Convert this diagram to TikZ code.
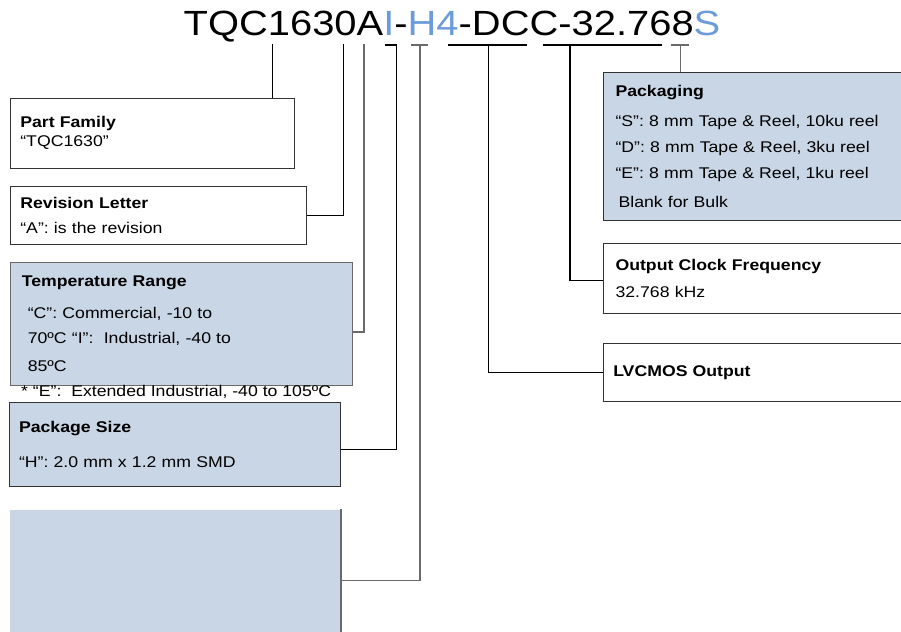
\documentclass[tikz,border=0pt]{standalone}
\usepackage{fontspec}
\setmainfont{Liberation Sans}[FakeStretch=1.14]
\usetikzlibrary{positioning, calc}

\definecolor{codeblue}{HTML}{6C9BD9}
\definecolor{boxfill}{HTML}{C9D6E5}
\definecolor{boxline}{HTML}{333333}
\definecolor{linegray}{HTML}{6A6A6A}

\begin{document}
\begin{tikzpicture}[
    x=1pt, y=-1pt,
    box/.style={rectangle, draw=boxline, line width=1.1pt, anchor=north west, align=left, inner xsep=9.5pt, inner ysep=0pt, font=\fontsize{15.5}{18}\selectfont},
    shaded/.style={box, fill=boxfill},
    link/.style={line width=1.1pt, black},
    glink/.style={line width=1.6pt, linegray}
]
\useasboundingbox (0,0) rectangle (901,631);

% Part number
\node (code) [anchor=base west, inner sep=0pt, font=\fontsize{35}{40}\selectfont] at (183.5,35.5) {TQC1630A\textcolor{codeblue}{I}-\textcolor{codeblue}{H4}-DCC-32.768\textcolor{codeblue}{S}};

% Left column
\node (family) [box, text width=264.7pt, minimum height=70pt] at (10.3,97.7) {\textbf{Part Family}\\[1pt]“TQC1630”};
\node (revision) [box, text width=276.4pt, minimum height=58.3pt] at (10.3,185.7) {\textbf{Revision Letter}\\[7pt]“A”: is the revision};
\node (temprange) [shaded, draw=linegray, inner xsep=11pt, text width=319.4pt, minimum height=122.7pt] at (10.3,262.3) {\textbf{Temperature Range}\\[13.7pt]\hspace*{6pt}“C”: Commercial, -10 to\\[7pt]\hspace*{6pt}70ºC “I”:\ \ Industrial, -40 to\\[10.3pt]\hspace*{6pt}85ºC};
\node (footnote) [anchor=base west, inner sep=0pt, font=\fontsize{15.5}{18}\selectfont] at (21,396.7) {* “E”:\ \ Extended Industrial, -40 to 105ºC};
\node (pkgsize) [shaded, text width=311.7pt, minimum height=83.7pt] at (9,402.3) {\textbf{Package Size}\\[16.6pt]“H”: 2.0 mm x 1.2 mm SMD};
\node (spare) [shaded, draw=none, minimum width=331pt, minimum height=131pt, inner sep=0pt] at (9,509) {};

% Right column
\node (packaging) [shaded, inner xsep=12.3pt, text width=300pt, minimum height=148.3pt] at (602.7,71.7) {\textbf{Packaging}\\[12.7pt]“S”: 8 mm Tape \& Reel, 10ku reel\\[8pt]“D”: 8 mm Tape \& Reel, 3ku reel\\[7.7pt]“E”: 8 mm Tape \& Reel, 1ku reel\\[11.3pt]\hspace*{3pt}Blank for Bulk};
\node (freq) [box, inner xsep=12.3pt, text width=300pt, minimum height=70.6pt] at (602.7,242.7) {\textbf{Output Clock Frequency}\\[8.3pt]32.768 kHz};
\node (output) [box, inner xsep=10pt, text width=300pt, minimum height=58pt] at (602.7,342.7) {\textbf{LVCMOS Output}};

% Taps under the part number
\coordinate (tFam) at (272.3,44);
\coordinate (tRev) at (343.3,44);
\coordinate (tTemp) at (363.7,44);
\coordinate (tSizeA) at (385,45);
\coordinate (tSize) at (396.5,45);
\coordinate (tHa) at (411,45);
\coordinate (tHb) at (428.3,45);
\coordinate (tH) at (420,45);
\coordinate (tDCCa) at (448.3,45);
\coordinate (tDCCb) at (527,45);
\coordinate (tDCC) at (488.3,45);
\coordinate (tFrqA) at (543,45);
\coordinate (tFrqB) at (661.7,45);
\coordinate (tFrq) at (570,45);
\coordinate (tPkA) at (670.7,45);
\coordinate (tPkB) at (689.3,45);
\coordinate (tPk) at (680.5,45);

% Leaders
\draw [link] (tFam) -- (tFam |- family.north);
\draw [link] (tRev) |- (revision.east);
\draw [glink] (tTemp) |- ([yshift=-8pt]temprange.east);
\draw [link] (tSizeA) -- (tSize) |- ([yshift=-5pt]pkgsize.east);
\draw [glink] (tHa) -- (tHb);
\draw [glink] (tH) |- ([yshift=-5.5pt]spare.east);
\draw [glink] (spare.north east) -- (spare.south east);
\draw [link] (tDCCa) -- (tDCCb);
\draw [link] (tDCC) |- (output.west);
\draw [link] (tFrqA) -- (tFrqB);
\draw [link] (tFrq) |- ([yshift=-2pt]freq.west);
\draw [glink] (tPkA) -- (tPkB);
\draw [glink] (tPk) -- (tPk |- packaging.north);

\end{tikzpicture}
\end{document}
